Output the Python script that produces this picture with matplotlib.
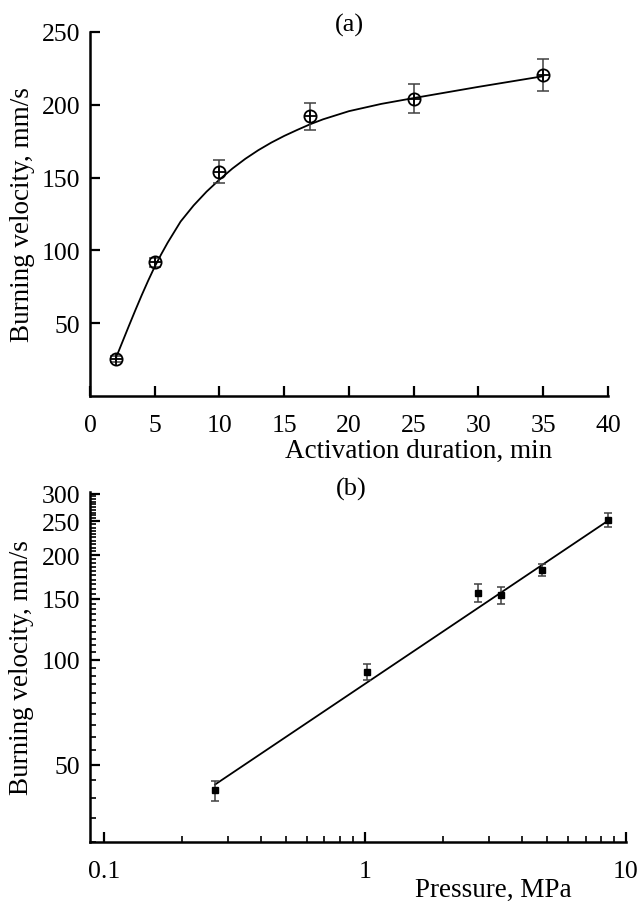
import numpy as np
import matplotlib
matplotlib.use("Agg")
import matplotlib.pyplot as plt
from matplotlib.ticker import FixedLocator, NullFormatter

plt.rcParams["font.family"] = ["Liberation Serif", "DejaVu Serif"]
plt.rcParams["font.size"] = 18.5

# (a) burning velocity vs activation duration
act_min = [2, 5, 10, 17, 25, 35]
vel_a = [25.5, 91.8, 154, 192, 204, 220.4]
err_a = [2, 3, 8, 9.5, 10, 11]
# fit curve, points
fit_a_x = [2, 2.5, 3, 3.5, 4, 4.5, 5, 5.5, 6, 7, 8, 9, 10, 11, 12, 13, 14,
           15, 16, 17, 18, 20, 22.5, 25, 30, 35]
fit_a_y = [26, 37, 48, 58.8, 69.3, 79.3, 88.8, 97.3, 105.3, 119.8, 130.8,
           140.3, 148.6, 156.2, 162.9, 168.8, 174, 178.6, 182.7, 186.6, 190,
           195.6, 200.6, 204.6, 212.3, 219.6]

# (b) burning velocity vs pressure (log-log)
press = [0.267, 1.02, 2.72, 3.32, 4.79, 8.52]
vel_b = [42.1, 92.2, 155.7, 153.4, 181.6, 252.9]
err_b = [2.7, 5, 9, 9, 7, 12]
fit_b_x = [0.267, 8.6]
fit_b_y = [43.8, 252]

fig = plt.figure(figsize=(6.39, 9.03), dpi=100)
ax1 = fig.add_axes([0.1408, 0.5604, 0.8106, 0.4031])
ax2 = fig.add_axes([0.1408, 0.0668, 0.8388, 0.3869])

for ax in (ax1, ax2):
    ax.spines["top"].set_visible(False)
    ax.spines["right"].set_visible(False)
    ax.spines["left"].set_linewidth(1.8)
    ax.spines["bottom"].set_linewidth(1.8)
    ax.tick_params(which="major", direction="in", length=7.5, width=1.6)
    ax.tick_params(which="minor", direction="in", length=4, width=1.2)
    ax.tick_params(axis="x", pad=13)
    ax.tick_params(axis="y", pad=7)

# panel (a)
ax1.plot(fit_a_x, fit_a_y, color="black", lw=1.3)
ax1.errorbar(act_min, vel_a, yerr=err_a, fmt="none", ecolor="#404040",
             elinewidth=1.1, capsize=4.3, capthick=1.1)
ax1.plot(act_min, vel_a, "o", ms=8.8, mfc="none", mec="black", mew=1.3)
ax1.plot(act_min, vel_a, "+", ms=8.8, color="black", mew=1.3)
ax1.set_xlim(0, 40)
ax1.set_ylim(0, 250)
ax1.set_xticks(np.arange(0, 41, 5))
ax1.set_yticks([50, 100, 150, 200, 250])
ax1.set_xlabel("Activation duration, min", fontsize=19.5)
ax1.xaxis.set_label_coords(0.635, -0.168)
ax1.xaxis.label.set_va("baseline")
ax1.set_ylabel("Burning velocity, mm/s", fontsize=19.5)
ax1.yaxis.set_label_coords(-0.130, 0.5)
ax1.yaxis.label.set_va("center")
ax1.text(0.5, 1.02, "(a)", transform=ax1.transAxes, ha="center", va="center",
         fontsize=19)

# panel (b)
ax2.set_xscale("log")
ax2.set_yscale("log")
ax2.plot(fit_b_x, fit_b_y, color="black", lw=1.3)
ax2.errorbar(press, vel_b, yerr=err_b, fmt="none", ecolor="#404040",
             elinewidth=1.1, capsize=3, capthick=1.1)
ax2.plot(press, vel_b, "s", ms=4.8, color="black")
ax2.set_xlim(0.0886, 10)
ax2.set_ylim(30, 303)
ax2.xaxis.set_major_locator(FixedLocator([0.1, 1, 10]))
ax2.set_xticklabels(["0.1", "1", "10"])
minor_x = [m * d for d in (0.1, 1) for m in range(2, 10)]
ax2.xaxis.set_minor_locator(FixedLocator(minor_x))
ax2.xaxis.set_minor_formatter(NullFormatter())
ax2.yaxis.set_major_locator(FixedLocator([50, 100, 150, 200, 250, 300]))
ax2.set_yticklabels(["50", "100", "150", "200", "250", "300"])
ax2.yaxis.set_minor_locator(FixedLocator(list(range(30, 301, 5))))
ax2.yaxis.set_minor_formatter(NullFormatter())
ax2.set_xlabel("Pressure, MPa", fontsize=19.5)
ax2.xaxis.set_label_coords(0.752, -0.155)
ax2.xaxis.label.set_va("baseline")
ax2.set_ylabel("Burning velocity, mm/s", fontsize=19.5)
ax2.yaxis.set_label_coords(-0.127, 0.5)
ax2.yaxis.label.set_va("center")
ax2.text(0.488, 1.01, "(b)", transform=ax2.transAxes, ha="center", va="center",
         fontsize=19)

fig.savefig("out.png", dpi=100)
